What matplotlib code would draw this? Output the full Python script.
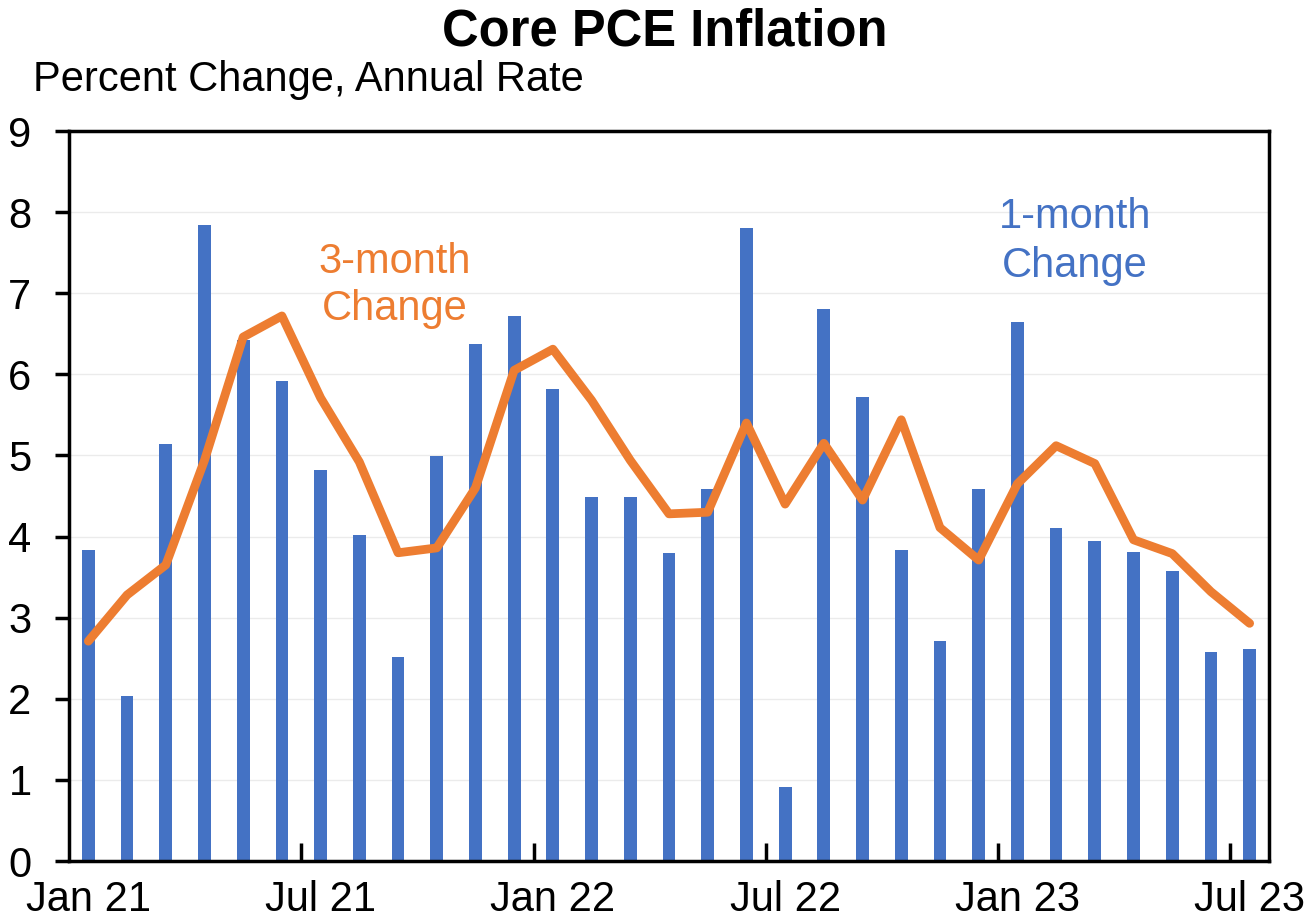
import matplotlib
matplotlib.use("Agg")
import matplotlib.pyplot as plt
import numpy as np

plt.rcParams['font.family'] = ['Liberation Sans', 'DejaVu Sans']

months = ["Jan 21", "Feb 21", "Mar 21", "Apr 21", "May 21", "Jun 21", "Jul 21", "Aug 21",
          "Sep 21", "Oct 21", "Nov 21", "Dec 21", "Jan 22", "Feb 22", "Mar 22", "Apr 22",
          "May 22", "Jun 22", "Jul 22", "Aug 22", "Sep 22", "Oct 22", "Nov 22", "Dec 22",
          "Jan 23", "Feb 23", "Mar 23", "Apr 23", "May 23", "Jun 23", "Jul 23"]
one_month = [3.84, 2.03, 5.14, 7.84, 6.42, 5.92, 4.82, 4.02, 2.52, 4.99, 6.37, 6.72,
             5.82, 4.49, 4.49, 3.80, 4.59, 7.80, 0.91, 6.80, 5.72, 3.83, 2.71, 4.59,
             6.64, 4.11, 3.94, 3.81, 3.57, 2.58, 2.61]
three_month = [2.71, 3.28, 3.65, 4.94, 6.46, 6.72, 5.71, 4.92, 3.80, 3.86, 4.60, 6.05,
               6.31, 5.68, 4.94, 4.28, 4.30, 5.40, 4.40, 5.15, 4.45, 5.44, 4.11, 3.71,
               4.65, 5.12, 4.90, 3.96, 3.79, 3.32, 2.93]
tick_labels = ["Jan 21", "Jul 21", "Jan 22", "Jul 22", "Jan 23", "Jul 23"]

blue = "#4472C4"
orange = "#ED7D31"

fig = plt.figure(figsize=(13.06, 9.21), dpi=100)
ax = fig.add_axes([69/1306, 1 - 861/921, (1269-69)/1306, (861-131)/921])

x = np.arange(len(months))
ax.bar(x, one_month, width=0.33, color=blue, zorder=2)
ax.plot(x, three_month, color=orange, lw=6.3, zorder=3, solid_joinstyle='round',
        solid_capstyle='round')

ax.set_xlim(-0.5, len(months) - 0.5)
ax.set_ylim(0, 9)
ax.set_yticks(range(0, 10))
ax.yaxis.grid(True, color="#EBEBEB", lw=1, zorder=0)
ax.set_axisbelow(True)
ax.tick_params(axis='y', direction='out', length=10, width=2.5, labelsize=30, pad=17)

label_pos = [months.index(m) for m in tick_labels]
ax.set_xticks(label_pos)
ax.set_xticklabels(tick_labels)
ax.tick_params(axis='x', length=0, labelsize=30, pad=14)
# minor tick marks at category boundaries
ax.set_xticks([p + 5.5 for p in label_pos[:-1]], minor=True)
ax.tick_params(axis='x', which='minor', direction='in', length=13, width=2.5)

for s in ax.spines.values():
    s.set_linewidth(2.5)
    s.set_color('black')

ax.text(395/1306, 1 - 262/921, "3-month", transform=fig.transFigure, color=orange,
        fontsize=30, ha='center', va='center')
ax.text(395/1306, 1 - 309/921, "Change", transform=fig.transFigure, color=orange,
        fontsize=30, ha='center', va='center')
ax.text(1075/1306, 1 - 217/921, "1-month", transform=fig.transFigure, color=blue,
        fontsize=30, ha='center', va='center')
ax.text(1075/1306, 1 - 266/921, "Change", transform=fig.transFigure, color=blue,
        fontsize=30, ha='center', va='center')

fig.text(665/1306, 1 - 32/921, "Core PCE Inflation", fontsize=36.5, fontweight='bold',
         ha='center', va='center')
fig.text(33/1306, 1 - 80/921, "Percent Change, Annual Rate", fontsize=30,
         ha='left', va='center')

fig.savefig("out.png", dpi=100)
